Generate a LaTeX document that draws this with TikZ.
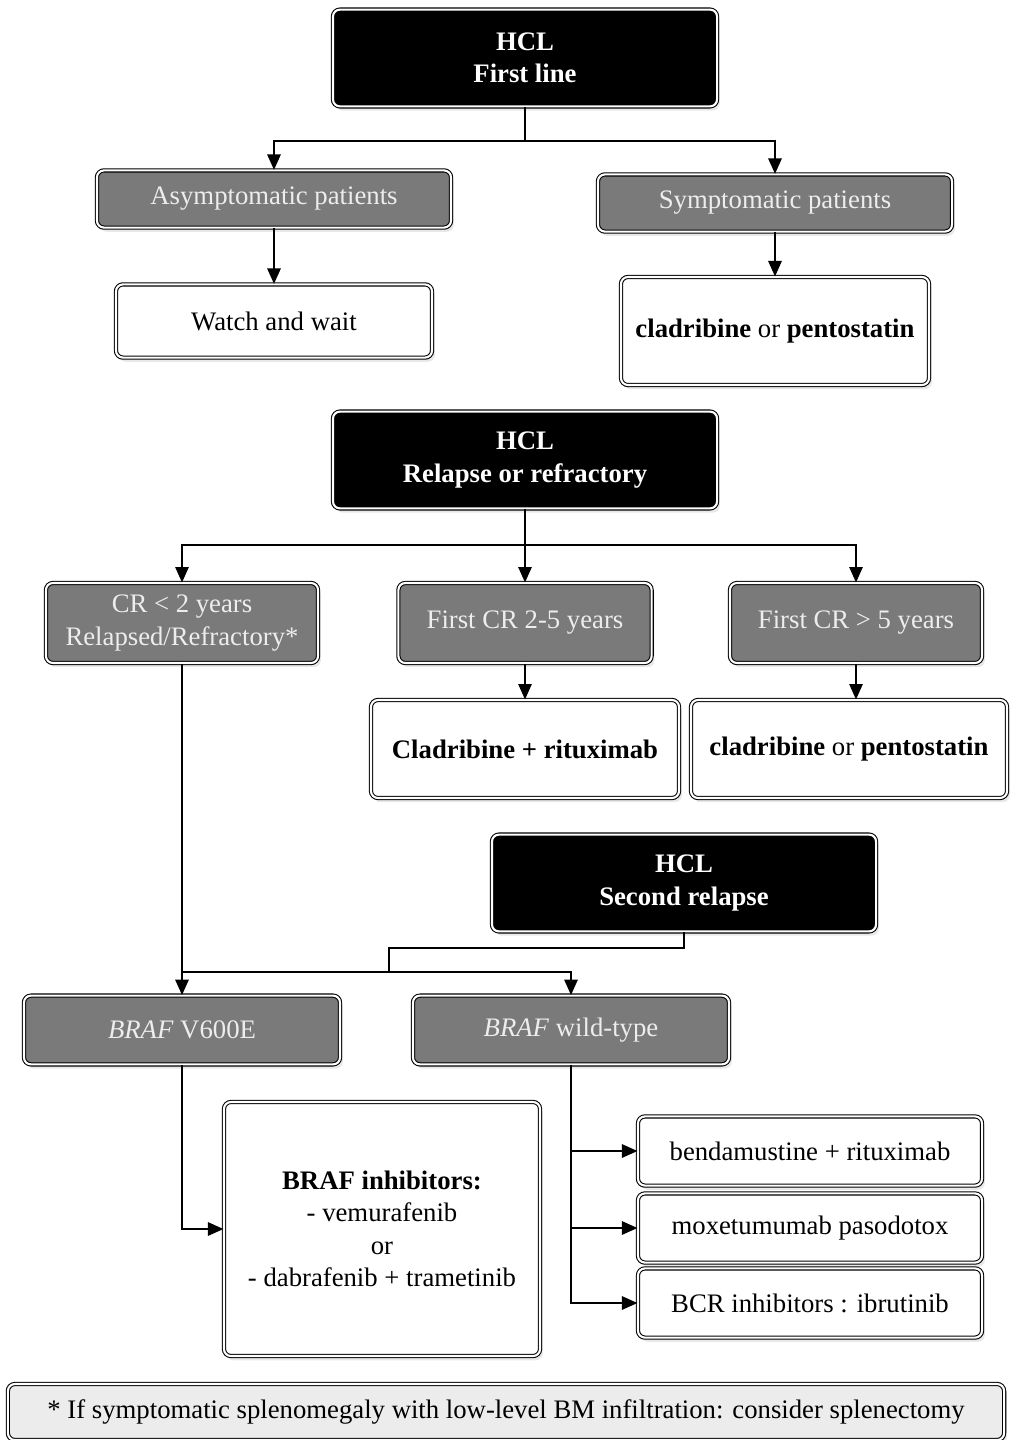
\documentclass[tikz,border=0pt]{standalone}
\usepackage{fontspec}
\setmainfont{Liberation Serif}
\usetikzlibrary{shapes,arrows.meta,positioning,shadows}
\definecolor{boxgray}{RGB}{122,122,122}
\tikzstyle{base}=[rectangle,draw,rounded corners=5pt,double=white,double distance=1.5pt,line width=0.75pt,align=center,font=\fontsize{19}{23}\selectfont,drop shadow={shadow xshift=2pt,shadow yshift=-3pt,opacity=0.18}]
\tikzstyle{hcl}=[base,fill=black,text=white,font=\fontsize{19}{23}\selectfont\bfseries,minimum width=9.6cm,minimum height=2.42cm]
\tikzstyle{grp}=[base,fill=boxgray,text=white!93!black]
\tikzstyle{treat}=[base,fill=white]
\tikzstyle{note}=[base,fill=gray!15]
\tikzstyle{arr}=[-{Triangle[length=11pt,width=9.5pt]},line width=1.3pt]

\begin{document}
\begin{tikzpicture}[x=0.025cm,y=-0.025cm]
\useasboundingbox (0,0) rectangle (1009,1440);
% first line
\node[hcl] (fl) at (525,58) {HCL\\First line};
\node[grp,minimum width=8.85cm,minimum height=1.43cm] (asym) at (274,199) {Asymptomatic patients};
\node[grp,minimum width=8.85cm,minimum height=1.43cm] (sym) at (775,203) {Symptomatic patients};
\node[treat,minimum width=7.9cm,minimum height=1.83cm] (ww) at (274,321) {Watch and wait};
\node[treat,minimum width=7.7cm,minimum height=2.7cm] (cp1) at (775,331) {\textbf{cladribine} or \textbf{pentostatin}};
% relapse
\node[hcl] (rr) at (525,460) {HCL\\Relapse or refractory};
\node[grp,minimum width=6.8cm,minimum height=2cm] (cr2) at (182,623) {CR < 2 years\\Relapsed/Refractory*};
\node[grp,minimum width=6.33cm,minimum height=2cm] (cr25) at (525,623) {First CR 2-5 years};
\node[grp,minimum width=6.3cm,minimum height=2cm] (cr5) at (856,623) {First CR > 5 years};
\node[treat,minimum width=7.7cm,minimum height=2.45cm] (cr) at (525,749) {\textbf{Cladribine + rituximab}};
\node[treat,minimum width=7.9cm,minimum height=2.45cm] (cp2) at (849,749) {\textbf{cladribine} or \textbf{pentostatin}};
% second relapse
\node[hcl] (sr) at (684,883) {HCL\\Second relapse};
\node[grp,minimum width=7.9cm,minimum height=1.72cm] (v600) at (182,1030) {\textit{BRAF} V600E};
\node[grp,minimum width=7.9cm,minimum height=1.72cm] (wt) at (571,1030) {\textit{BRAF} wild-type};
\node[treat,minimum width=7.9cm,minimum height=6.35cm] (inh) at (382,1229) {\textbf{BRAF inhibitors:}\\- vemurafenib\\or\\- dabrafenib + trametinib};
\node[treat,minimum width=8.6cm,minimum height=1.73cm] (ben) at (810,1151) {bendamustine + rituximab};
\node[treat,minimum width=8.6cm,minimum height=1.73cm] (mox) at (810,1228) {moxetumumab pasodotox};
\node[treat,minimum width=8.6cm,minimum height=1.73cm] (bcr) at (810,1303) {BCR inhibitors : ibrutinib};
\node[note,minimum width=24.9cm,minimum height=1.4cm] (fn) at (506,1412) {* If symptomatic splenomegaly with low-level BM infiltration: consider splenectomy};
% connectors
\draw[arr] (fl.south) -- ++(0,34) -| (asym.north);
\draw[arr] (fl.south) -- ++(0,34) -| (sym.north);
\draw[arr] (asym) -- (ww);
\draw[arr] (sym) -- (cp1);
\draw[arr] (rr.south) -- ++(0,36) -| (cr2.north);
\draw[arr] (rr.south) -- ++(0,36) -| (cr5.north);
\draw[arr] (rr) -- (cr25);
\draw[arr] (cr25) -- (cr);
\draw[arr] (cr5.south) -- (cr5.south |- cp2.north);
\draw[arr] (cr2) -- (v600);
\coordinate (jn) at (389,972);
\draw[line width=1.3pt] (sr.south) -- ++(0,16) -| (jn);
\draw[arr] (cr2.south |- jn) -| (wt.north);
\draw[arr] (v600.south) |- (inh.west);
\foreach \t in {ben,mox,bcr}
  \draw[arr] (wt.south) |- (\t.west);
\end{tikzpicture}
\end{document}
